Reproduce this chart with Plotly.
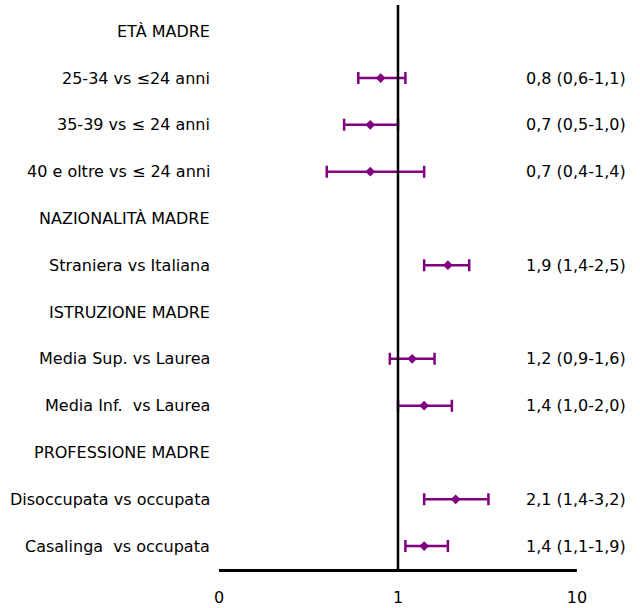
import plotly.graph_objects as go

# Row labels (section headers have no estimate)
labels = [
    "ETÀ MADRE",
    "25-34 vs ≤24 anni",
    "35-39 vs ≤ 24 anni",
    "40 e oltre vs ≤ 24 anni",
    "NAZIONALITÀ MADRE",
    "Straniera vs Italiana",
    "ISTRUZIONE MADRE",
    "Media Sup. vs Laurea",
    "Media Inf.  vs Laurea",
    "PROFESSIONE MADRE",
    "Disoccupata vs occupata",
    "Casalinga  vs occupata",
]
odds_ratio = [None, 0.8, 0.7, 0.7, None, 1.9, None, 1.2, 1.4, None, 2.1, 1.4]
ci_low = [None, 0.6, 0.5, 0.4, None, 1.4, None, 0.9, 1.0, None, 1.4, 1.1]
ci_high = [None, 1.1, 1.0, 1.4, None, 2.5, None, 1.6, 2.0, None, 3.2, 1.9]

x_tick_vals = [0.1, 1, 10]
x_tick_text = ["0", "1", "10"]

PURPLE = "#800080"
FONT = "DejaVu Sans"
FSIZE = 16


def fmt(v):
    return f"{v:.1f}".replace(".", ",")


rows = list(range(len(labels)))
idx = [i for i in rows if odds_ratio[i] is not None]
xs = [odds_ratio[i] for i in idx]
err_plus = [ci_high[i] - odds_ratio[i] for i in idx]
err_minus = [odds_ratio[i] - ci_low[i] for i in idx]

fig = go.Figure()
fig.add_trace(go.Scatter(
    x=xs,
    y=idx,
    mode="markers",
    marker=dict(symbol="diamond", size=7.5, color=PURPLE),
    error_x=dict(type="data", symmetric=False, array=err_plus, arrayminus=err_minus,
                 color=PURPLE, thickness=2.5, width=6),
    hoverinfo="skip",
    showlegend=False,
))

# Reference line at OR = 1
fig.add_shape(type="line", xref="x", yref="paper", x0=1, x1=1, y0=0, y1=1,
              line=dict(color="black", width=2.5))

annotations = []
for i in rows:
    annotations.append(dict(
        x=-0.02, xref="paper", y=i, yref="y", text=labels[i],
        showarrow=False, xanchor="right", yanchor="middle",
        font=dict(family=FONT, size=FSIZE, color="#000000"),
    ))
    if odds_ratio[i] is not None:
        annotations.append(dict(
            x=1.1425, xref="paper", y=i, yref="y",
            text=f"{fmt(odds_ratio[i])} ({fmt(ci_low[i])}-{fmt(ci_high[i])})",
            showarrow=False, xanchor="right", yanchor="middle",
            font=dict(family=FONT, size=FSIZE, color="#000000"),
        ))

fig.update_layout(
    width=640, height=608,
    margin=dict(l=219, r=63, t=5, b=39),
    paper_bgcolor="white", plot_bgcolor="white",
    font=dict(family=FONT, size=FSIZE, color="#000000"),
    annotations=annotations,
    xaxis=dict(
        type="log", range=[-1, 1], automargin=False,
        tickvals=x_tick_vals, ticktext=x_tick_text,
        showgrid=False, zeroline=False,
        showline=True, linecolor="black", linewidth=2.5,
        ticks="outside", ticklen=12, tickcolor="rgba(0,0,0,0)",
        tickfont=dict(family=FONT, size=FSIZE, color="#000000"),
    ),
    yaxis=dict(
        range=[11.49, -0.56], automargin=False,
        showgrid=False, zeroline=False, showline=False,
        showticklabels=False, ticks="",
    ),
)

fig.write_html("out.html")
